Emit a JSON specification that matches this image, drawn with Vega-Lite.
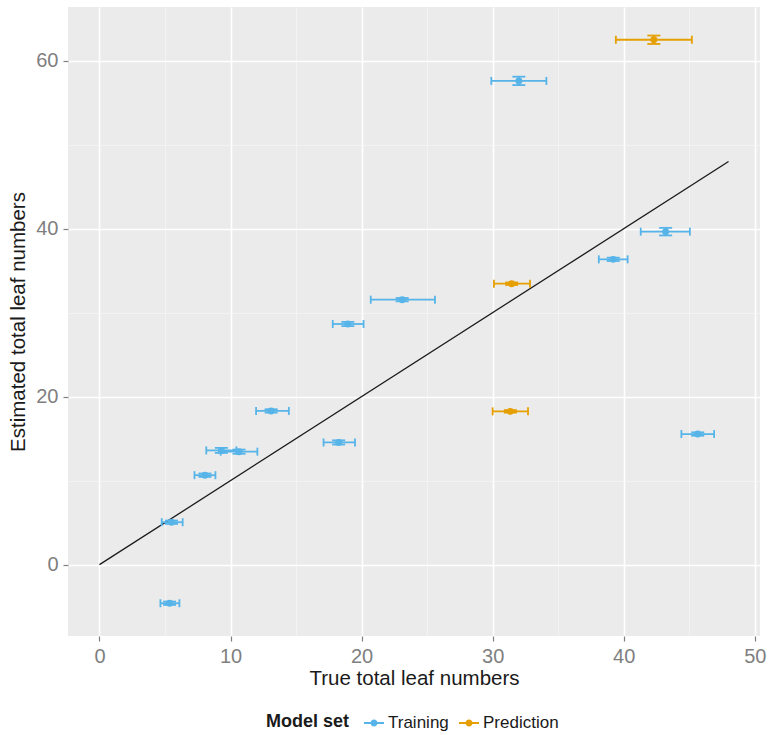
{
  "$schema": "https://vega.github.io/schema/vega-lite/v6.json",
  "autosize": {"type": "none"},
  "padding": {"left": 68, "top": 7, "right": 9, "bottom": 99},
  "width": 692,
  "height": 629,
  "datasets": {
    "estimates": [
      {"set": "Training", "x": 32.0, "y": 57.6, "xmin": 29.9, "xmax": 34.1, "ymin": 57.1, "ymax": 58.1},
      {"set": "Training", "x": 43.2, "y": 39.65, "xmin": 41.3, "xmax": 45.05, "ymin": 39.2, "ymax": 40.1},
      {"set": "Training", "x": 39.2, "y": 36.35, "xmin": 38.1, "xmax": 40.3, "ymin": 36.15, "ymax": 36.55},
      {"set": "Training", "x": 23.1, "y": 31.55, "xmin": 20.7, "xmax": 25.6, "ymin": 31.35, "ymax": 31.75},
      {"set": "Training", "x": 18.95, "y": 28.65, "xmin": 17.8, "xmax": 20.15, "ymin": 28.4, "ymax": 28.9},
      {"set": "Training", "x": 13.1, "y": 18.3, "xmin": 11.95, "xmax": 14.45, "ymin": 18.1, "ymax": 18.5},
      {"set": "Training", "x": 18.25, "y": 14.55, "xmin": 17.1, "xmax": 19.5, "ymin": 14.3, "ymax": 14.8},
      {"set": "Training", "x": 9.3, "y": 13.6, "xmin": 8.15, "xmax": 10.45, "ymin": 13.3, "ymax": 13.9},
      {"set": "Training", "x": 10.65, "y": 13.45, "xmin": 9.25, "xmax": 12.05, "ymin": 13.2, "ymax": 13.7},
      {"set": "Training", "x": 8.05, "y": 10.65, "xmin": 7.25, "xmax": 8.85, "ymin": 10.45, "ymax": 10.85},
      {"set": "Training", "x": 5.5, "y": 5.05, "xmin": 4.75, "xmax": 6.35, "ymin": 4.85, "ymax": 5.25},
      {"set": "Training", "x": 5.35, "y": -4.6, "xmin": 4.65, "xmax": 6.1, "ymin": -4.8, "ymax": -4.4},
      {"set": "Training", "x": 45.65, "y": 15.55, "xmin": 44.4, "xmax": 46.9, "ymin": 15.35, "ymax": 15.75},
      {"set": "Prediction", "x": 42.3, "y": 62.5, "xmin": 39.4, "xmax": 45.2, "ymin": 62.0, "ymax": 63.0},
      {"set": "Prediction", "x": 31.45, "y": 33.45, "xmin": 30.1, "xmax": 32.85, "ymin": 33.3, "ymax": 33.6},
      {"set": "Prediction", "x": 31.35, "y": 18.25, "xmin": 30.0, "xmax": 32.7, "ymin": 18.1, "ymax": 18.4}
    ],
    "identity": [
      {"x": 0, "y": 0},
      {"x": 48, "y": 48}
    ]
  },
  "data": {"name": "estimates"},
  "encoding": {
    "x": {
      "field": "x", "type": "quantitative",
      "scale": {"domain": [-2.4, 50.4], "nice": false, "zero": false},
      "axis": {
        "title": "True total leaf numbers",
        "values": [0, 5, 10, 15, 20, 25, 30, 35, 40, 45, 50],
        "labelExpr": "datum.value % 10 === 0 ? datum.label : ''",
        "tickOpacity": {"condition": {"test": "datum.value % 10 === 0", "value": 1}, "value": 0},
        "gridColor": {"condition": {"test": "datum.value % 10 === 0", "value": "#FFFFFF"}, "value": "#F5F5F5"},
        "gridWidth": {"condition": {"test": "datum.value % 10 === 0", "value": 1.6}, "value": 0.8}
      }
    },
    "y": {
      "field": "y", "type": "quantitative",
      "scale": {"domain": [-8.5, 66.4], "nice": false, "zero": false},
      "axis": {
        "title": "Estimated total leaf numbers",
        "values": [0, 10, 20, 30, 40, 50, 60],
        "labelExpr": "datum.value % 20 === 0 ? datum.label : ''",
        "tickOpacity": {"condition": {"test": "datum.value % 20 === 0", "value": 1}, "value": 0},
        "gridColor": {"condition": {"test": "datum.value % 20 === 0", "value": "#FFFFFF"}, "value": "#F5F5F5"},
        "gridWidth": {"condition": {"test": "datum.value % 20 === 0", "value": 1.6}, "value": 0.8}
      }
    },
    "color": {
      "field": "set", "type": "nominal",
      "scale": {"domain": ["Training", "Prediction"], "range": ["#56B4E9", "#E69F00"]},
      "legend": {
        "title": "Model set",
        "orient": "none",
        "direction": "horizontal",
        "legendX": 198,
        "legendY": 706,
        "titleOrient": "left",
        "titleFontWeight": "bold",
        "titleFontSize": 18,
        "titleColor": "#1a1a1a",
        "titlePadding": 14,
        "labelFontSize": 17,
        "labelColor": "#1a1a1a",
        "labelOffset": 4,
        "columnPadding": 10,
        "symbolType": "M-1,-0.1H1V0.1H-1Z M-0.35,0A0.35,0.35 0 1,1 0.35,0A0.35,0.35 0 1,1 -0.35,0Z",
        "symbolSize": 400,
        "symbolStrokeWidth": 0,
        "symbolOpacity": 1
      }
    }
  },
  "layer": [
    {
      "data": {"name": "identity"},
      "mark": {"type": "line", "color": "#1a1a1a", "strokeWidth": 1.3},
      "encoding": {
        "x": {"field": "x", "type": "quantitative"},
        "y": {"field": "y", "type": "quantitative"},
        "color": {"value": "#1a1a1a"}
      }
    },
    {
      "mark": {"type": "rule", "strokeWidth": 1.8},
      "encoding": {"x": {"field": "xmin"}, "x2": {"field": "xmax"}}
    },
    {
      "mark": {"type": "tick", "orient": "vertical", "size": 8, "thickness": 1.8, "opacity": 1},
      "encoding": {"x": {"field": "xmin"}}
    },
    {
      "mark": {"type": "tick", "orient": "vertical", "size": 8, "thickness": 1.8, "opacity": 1},
      "encoding": {"x": {"field": "xmax"}}
    },
    {
      "mark": {"type": "rule", "strokeWidth": 1.8},
      "encoding": {"y": {"field": "ymin"}, "y2": {"field": "ymax"}}
    },
    {
      "mark": {"type": "tick", "orient": "horizontal", "size": 13, "thickness": 1.8, "opacity": 1},
      "encoding": {"y": {"field": "ymin"}}
    },
    {
      "mark": {"type": "tick", "orient": "horizontal", "size": 13, "thickness": 1.8, "opacity": 1},
      "encoding": {"y": {"field": "ymax"}}
    },
    {
      "mark": {"type": "point", "filled": true, "size": 48, "opacity": 1, "shape": "circle"}
    }
  ],
  "config": {
    "font": "Liberation Sans",
    "view": {"fill": "#EBEBEB", "stroke": null},
    "axis": {
      "domain": false,
      "labelFont": "Liberation Sans",
      "labelFontSize": 20,
      "labelColor": "#7F7F7F",
      "labelPadding": 5,
      "tickColor": "#7F7F7F",
      "tickSize": 5,
      "tickWidth": 1.2,
      "titleFont": "Liberation Sans",
      "titleFontSize": 20.5,
      "titleFontWeight": "normal",
      "titleColor": "#1a1a1a",
      "labelOverlap": false
    },
    "axisX": {"titlePadding": 2},
    "axisY": {"titlePadding": 7},
    "legend": {"labelFont": "Liberation Sans", "titleFont": "Liberation Sans"}
  }
}
